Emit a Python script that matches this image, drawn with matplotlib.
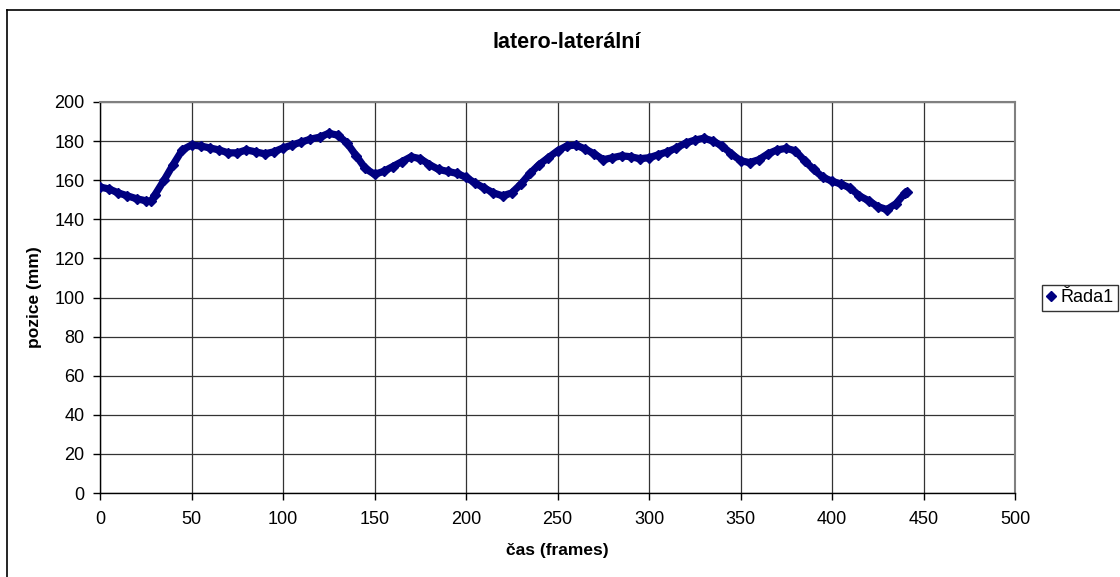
import matplotlib
matplotlib.use("Agg")
import matplotlib.pyplot as plt
from matplotlib.lines import Line2D

plt.rcParams['font.family'] = ['Liberation Sans', 'DejaVu Sans']

# data (frame, position in mm)
frames = [0, 5, 10, 15, 20, 25, 28, 30, 35, 40, 45, 50, 55, 60, 65, 70, 75, 80,
          85, 90, 95, 100, 105, 110, 115, 120, 125, 130, 135, 140, 145, 150,
          155, 160, 165, 170, 175, 180, 185, 190, 195, 200, 205, 210, 215, 220,
          225, 230, 235, 240, 245, 250, 255, 260, 265, 270, 275, 280, 285, 290,
          295, 300, 305, 310, 315, 320, 325, 330, 335, 340, 345, 350, 355, 360,
          365, 370, 375, 380, 385, 390, 395, 400, 405, 410, 415, 420, 425, 430,
          435, 440, 441]
pozice = [156.5, 155.5, 153.5, 152.0, 150.5, 149.5, 149.3, 152.5, 160.0, 168.0,
          175.5, 178.0, 177.5, 176.5, 175.5, 174.0, 174.0, 175.5, 174.5, 173.5,
          174.5, 176.5, 178.0, 179.5, 181.0, 182.0, 184.0, 183.0, 179.0, 172.5,
          166.0, 163.0, 164.5, 167.0, 169.5, 172.0, 171.0, 168.0, 165.5, 164.5,
          163.5, 161.5, 158.5, 156.0, 153.5, 152.0, 153.5, 158.0, 163.5, 168.0,
          171.5, 175.0, 177.5, 178.0, 176.0, 173.5, 170.5, 171.5, 172.5, 172.0,
          171.0, 171.5, 173.0, 174.5, 176.5, 179.0, 180.5, 181.5, 180.0, 177.5,
          173.5, 170.0, 169.0, 170.5, 173.5, 175.5, 176.3, 175.0, 170.0, 165.5,
          161.5, 159.5, 158.0, 156.0, 152.0, 149.5, 146.5, 145.0, 148.0, 153.5,
          154.0]

x_ticks = [0, 50, 100, 150, 200, 250, 300, 350, 400, 450, 500]
y_ticks = [0, 20, 40, 60, 80, 100, 120, 140, 160, 180, 200]

fig = plt.figure(figsize=(11.2, 5.77), dpi=100)
ax = fig.add_axes([100 / 1120, 1 - 493 / 577, 915 / 1120, 391 / 577])

navy = '#000080'
ax.plot(frames, pozice, color=navy, lw=5.2, marker='D', ms=5,
        markeredgecolor=navy, solid_joinstyle='round', solid_capstyle='round',
        label='Řada1', zorder=3)

ax.set_xlim(0, 500)
ax.set_ylim(0, 200)
ax.set_xticks(x_ticks)
ax.set_yticks(y_ticks)
ax.grid(True, color='#333333', lw=0.9)
ax.set_axisbelow(True)

for side in ['top', 'right']:
    ax.spines[side].set_color('#808080')
    ax.spines[side].set_linewidth(1.5)
for side in ['left', 'bottom']:
    ax.spines[side].set_color('black')
    ax.spines[side].set_linewidth(1.0)

ax.tick_params(axis='both', direction='out', length=5, width=1, labelsize=13)
ax.tick_params(axis='x', pad=8)
ax.tick_params(axis='y', pad=6)

fig.text(567 / 1120, 1 - 42 / 577, 'latero-laterální', ha='center', va='center',
         fontsize=15.5, fontweight='bold')
fig.text(557 / 1120, 1 - 551 / 577, 'čas (frames)', ha='center', va='center',
         fontsize=12.5, fontweight='bold')
fig.text(35 / 1120, 1 - 297 / 577, 'pozice (mm)', ha='center', va='center',
         rotation=90, fontsize=12.5, fontweight='bold')

leg = fig.legend(handles=[Line2D([], [], color=navy, marker='D', ls='none', ms=5)],
                 labels=['Řada1'], loc='center left',
                 bbox_to_anchor=(1042 / 1120, 1 - 298 / 577), fontsize=13,
                 frameon=True, fancybox=False, edgecolor='black',
                 handlelength=0.5, handletextpad=0.25, borderpad=0.25,
                 borderaxespad=0)
leg.get_frame().set_linewidth(1.0)

# outer chart border (top and left edges visible)
fig.add_artist(Line2D([7 / 1120, 1.0], [1 - 10 / 577, 1 - 10 / 577],
                      color='black', lw=1.2, transform=fig.transFigure))
fig.add_artist(Line2D([7 / 1120, 7 / 1120], [0.0, 1 - 10 / 577],
                      color='black', lw=1.2, transform=fig.transFigure))

fig.savefig('out.png', dpi=100)
